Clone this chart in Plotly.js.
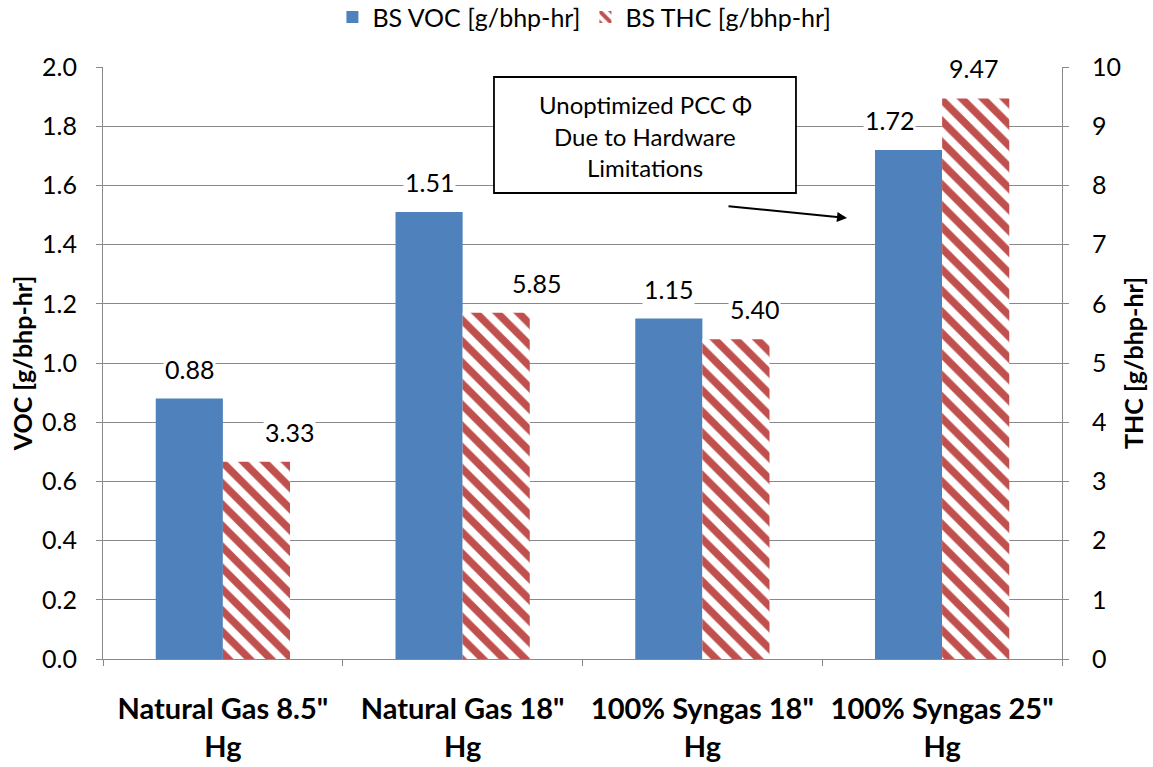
<!DOCTYPE html>
<html>
<head>
<meta charset="utf-8">
<script src="https://cdn.plot.ly/plotly-3.0.1.min.js"></script>
<style>html,body{margin:0;padding:0;background:#fff;}#chart{width:1153px;height:767px;}</style>
</head>
<body>
<div id="chart"></div>
<script>
// ---- data ----
const categories = ['Natural Gas 8.5"<br>Hg', 'Natural Gas 18"<br>Hg', '100% Syngas 18"<br>Hg', '100% Syngas 25"<br>Hg'];
const vocValues = [0.88, 1.51, 1.15, 1.72];
const thcValues = [3.33, 5.85, 5.40, 9.47];
const vocName = 'BS VOC [g/bhp-hr]';
const thcName = 'BS THC [g/bhp-hr]';
const leftTicks = [0, 0.2, 0.4, 0.6, 0.8, 1.0, 1.2, 1.4, 1.6, 1.8, 2.0];
const rightTicks = [0, 1, 2, 3, 4, 5, 6, 7, 8, 9, 10];
const noteLines = ['Unoptimized PCC \u03A6', 'Due to Hardware', 'Limitations'];

// label nudges (pixels), kept apart from data
const vocNudge = [0, 0, 0, -19];
const thcNudge = [33, 40, 19, -2];

const BLUE = '#4F81BD';
const RED = '#C0504D';
const GRID = '#898989';
const FONT = 'Lato, "Open Sans", sans-serif';

const barW = 0.28;
const traces = [
  {
    type: 'bar', name: vocName, x: categories, y: vocValues,
    width: barW, offset: -barW, yaxis: 'y',
    marker: {color: BLUE, line: {width: 0}},
    hoverinfo: 'y'
  },
  {
    type: 'bar', name: thcName, x: categories, y: thcValues,
    width: barW, offset: 0, yaxis: 'y2',
    marker: {color: '#ffffff', line: {width: 0},
      pattern: {shape: '\\', fgcolor: RED, fgopacity: 1, bgcolor: '#ffffff', size: 15, solidity: 0.5, fillmode: 'overlay'}},
    hoverinfo: 'y'
  }
];

const annotations = [];
const plotW = 1153 - 103 - 91;
const catPx = plotW / categories.length;
const labelFont = {family: FONT, size: 25, color: '#000'};
categories.forEach((c, i) => {
  annotations.push({
    x: c, y: vocValues[i], xref: 'x', yref: 'y', text: vocValues[i].toFixed(2),
    showarrow: false, xshift: -barW * catPx / 2 + vocNudge[i], yshift: 30,
    bgcolor: '#ffffff', borderpad: 1, font: labelFont
  });
  annotations.push({
    x: c, y: thcValues[i], xref: 'x', yref: 'y2', text: thcValues[i].toFixed(2),
    showarrow: false, xshift: barW * catPx / 2 + thcNudge[i], yshift: 30,
    bgcolor: '#ffffff', borderpad: 1, font: labelFont
  });
});
// note text lines
const noteY = [0.9375, 0.8834, 0.8294];
noteLines.forEach((t, i) => {
  annotations.push({
    x: 0.5652, y: noteY[i], xref: 'paper', yref: 'paper', text: t, showarrow: false,
    xanchor: 'center', yanchor: 'middle', font: {family: FONT, size: 24, color: '#000'}
  });
});
// arrow
annotations.push({
  x: (847 - 103) / 959, y: (659 - 218) / 592, xref: 'paper', yref: 'paper',
  text: '', showarrow: true, ax: -120, ay: -12, axref: 'pixel', ayref: 'pixel',
  arrowhead: 2, arrowsize: 1, arrowwidth: 2, arrowcolor: '#000'
});

const layout = {
  width: 1153, height: 767,
  margin: {l: 103, r: 91, t: 67, b: 108, pad: 0, autoexpand: false},
  paper_bgcolor: '#fff', plot_bgcolor: '#fff',
  font: {family: FONT, size: 25, color: '#000'},
  showlegend: true,
  legend: {orientation: 'h', x: 0.502, xanchor: 'center', y: 1.123, yanchor: 'top',
    font: {family: FONT, size: 25, color: '#000'}, itemwidth: 30, tracegroupgap: 0, itemclick: false},
  xaxis: {
    type: 'category', automargin: false, showgrid: false, zeroline: false,
    showline: true, linecolor: GRID, linewidth: 1,
    ticks: 'outside', tickson: 'boundaries', ticklen: 6, tickcolor: GRID, tickwidth: 1,
    tickfont: {family: FONT, size: 29, weight: 'bold', color: '#000'},
    ticklabelstandoff: 24, fixedrange: true
  },
  yaxis: {
    range: [0, 2.0], tickvals: leftTicks, ticktext: leftTicks.map(v => v.toFixed(1)),
    automargin: false, showgrid: true, gridcolor: GRID, gridwidth: 1, zeroline: false,
    showline: true, linecolor: GRID, linewidth: 1,
    ticks: 'outside', ticklen: 6, tickcolor: GRID,
    tickfont: {family: FONT, size: 25, color: '#000'}, ticklabelstandoff: 14,
    title: {text: 'VOC [g/bhp-hr]', font: {family: FONT, size: 25, weight: 'bold', color: '#000'}, standoff: 2},
    fixedrange: true
  },
  yaxis2: {
    range: [0, 10], tickvals: rightTicks, ticktext: rightTicks.map(String),
    overlaying: 'y', side: 'right', automargin: false, showgrid: false, zeroline: false,
    showline: true, linecolor: GRID, linewidth: 1,
    ticks: 'outside', ticklen: 6, tickcolor: GRID,
    tickfont: {family: FONT, size: 25, color: '#000'}, ticklabelstandoff: 18,
    title: {text: 'THC [g/bhp-hr]', font: {family: FONT, size: 25, weight: 'bold', color: '#000'}, standoff: 5},
    fixedrange: true
  },
  shapes: [
    {type: 'rect', xref: 'paper', yref: 'paper', x0: 0.4077, x1: 0.7226, y0: 0.7872, y1: 0.9831,
     line: {color: '#000', width: 1.8}, fillcolor: '#fff', layer: 'above'}
  ],
  annotations: annotations
};

Plotly.newPlot('chart', traces, layout, {displayModeBar: false, staticPlot: true});
</script>
</body>
</html>
